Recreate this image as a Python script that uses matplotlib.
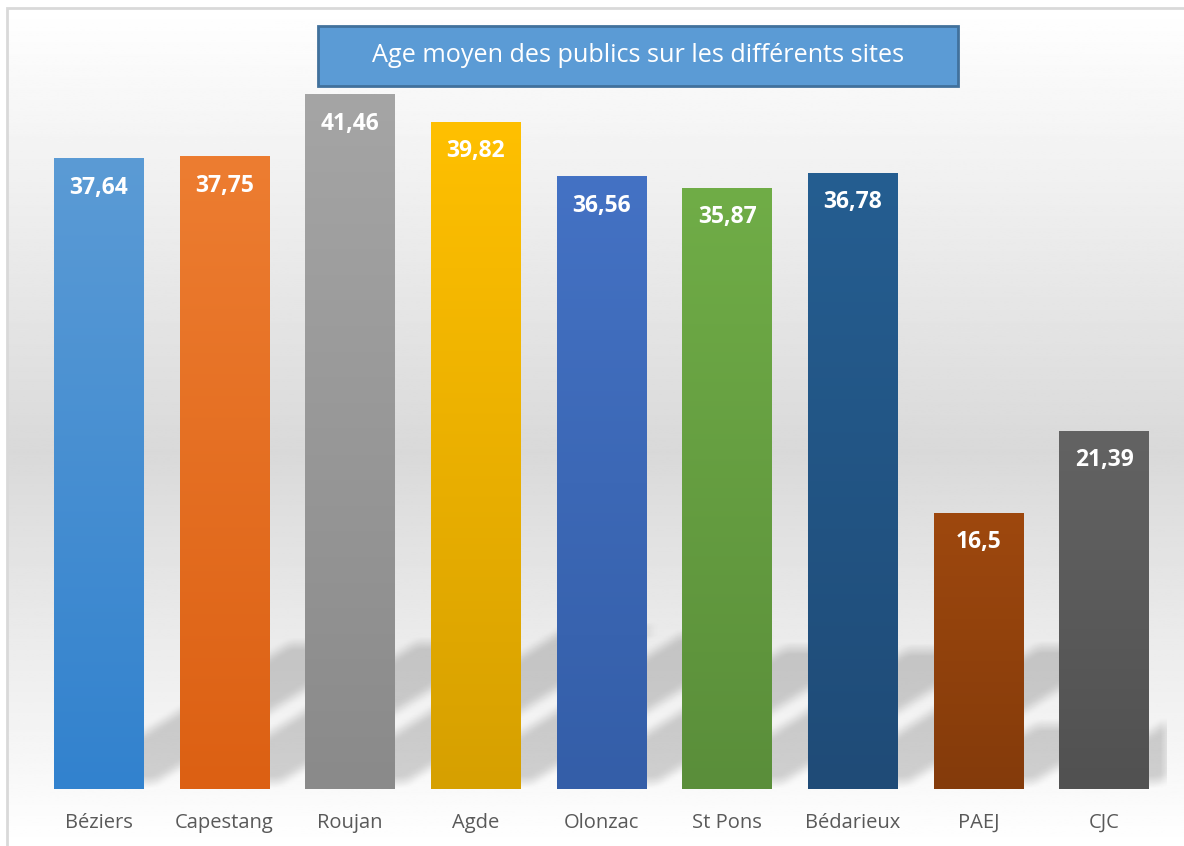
import numpy as np
import matplotlib
matplotlib.use("Agg")
import matplotlib.pyplot as plt
from matplotlib.colors import to_rgb
from matplotlib.patches import Rectangle

# data
sites = ["Béziers", "Capestang", "Roujan", "Agde", "Olonzac",
         "St Pons", "Bédarieux", "PAEJ", "CJC"]
ages = [37.64, 37.75, 41.46, 39.82, 36.56, 35.87, 36.78, 16.5, 21.39]
labels = ["37,64", "37,75", "41,46", "39,82", "36,56", "35,87", "36,78", "16,5", "21,39"]
top_colors = ["#5b9bd5", "#ed7d31", "#a5a5a5", "#ffc000", "#4472c4",
              "#70ad47", "#255e91", "#9e480e", "#636363"]
bottom_colors = ["#3282ce", "#dc6013", "#8a8a8a", "#d6a000", "#345ea8",
                 "#5a8e3a", "#1f4b77", "#843b0b", "#515151"]

W, H = 1184, 846
fig = plt.figure(figsize=(W / 100, H / 100), dpi=100)
fig.patch.set_facecolor("white")

# chart frame with grey gradient (white - grey - white)
bg = fig.add_axes([7 / W, 0, 1 - 7 / W, 1 - 8 / H])
bg.set_axis_off()
t = np.linspace(0, 1, 400)
mid = 0.53
shade = np.where(t < mid, 1 - (1 - 0.851) * t / mid, 0.851 + (1 - 0.851) * (t - mid) / (1 - mid))
grad = np.repeat(shade[:, None], 2, axis=1)
bg.imshow(grad, cmap="gray", vmin=0, vmax=1, aspect="auto", extent=(0, 1, 1, 0))
bg.set_xlim(0, 1)
bg.set_ylim(1, 0)
fig.add_artist(Rectangle((7 / W, -0.05), 1.0, 1.05 - 8 / H, transform=fig.transFigure,
                         fill=False, edgecolor="#d9d9d9", linewidth=2))

# plot area
ax = fig.add_axes([36 / W, 57 / H, 1131 / W, 754 / H])
ax.set_facecolor("none")
ymax = 45
ax.set_xlim(-0.5, len(sites) - 0.5)
ax.set_ylim(0, ymax)
for s in ax.spines.values():
    s.set_visible(False)
ax.set_yticks([])
ax.tick_params(axis="x", length=0, pad=17)

bars = ax.bar(range(len(sites)), ages, width=0.715, color=top_colors, zorder=3)

# perspective shadows (skewed, blurred)
nx, ny = 1131, 754
gx = np.linspace(-0.5, len(sites) - 0.5, nx)
gy = np.linspace(0, ymax, ny)
X, Y = np.meshgrid(gx, gy)
mask = np.zeros_like(X)
skew = 0.217
for b, v in zip(bars, ages):
    x0, x1 = b.get_x(), b.get_x() + b.get_width()
    xs = X - skew * Y
    inside = (xs >= x0) & (xs <= x1) & (Y >= 0.4) & (Y <= 0.23 * v)
    mask[inside] = 1.0
k = np.ones(13) / 13
mask = np.apply_along_axis(lambda r: np.convolve(r, k, mode="same"), 1, mask)
mask = np.apply_along_axis(lambda c: np.convolve(c, k, mode="same"), 0, mask)
rgba = np.zeros((ny, nx, 4))
rgba[..., 3] = mask * 0.17
ax.imshow(rgba, origin="lower", aspect="auto", zorder=1,
          extent=(-0.5, len(sites) - 0.5, 0, ymax))
ax.set_xlim(-0.5, len(sites) - 0.5)
ax.set_ylim(0, ymax)

# vertical gradient on each bar
for b, c_top, c_bot in zip(bars, top_colors, bottom_colors):
    ct, cb = np.array(to_rgb(c_top)), np.array(to_rgb(c_bot))
    f = np.linspace(0, 1, 256)[:, None]
    img = (cb * (1 - f) + ct * f)[:, None, :]
    im = ax.imshow(img, origin="lower", aspect="auto", zorder=4,
                   extent=(b.get_x(), b.get_x() + b.get_width(), 0, b.get_height()))
    im.set_clip_path(b)

# value labels
for b, lab in zip(bars, labels):
    ax.text(b.get_x() + b.get_width() / 2, b.get_height() - 1.75, lab,
            ha="center", va="center", color="white", fontsize=16.5,
            fontweight="bold", family="Open Sans", zorder=5)

ax.set_xticks(range(len(sites)))
ax.set_xticklabels(sites, fontsize=14.5, color="#595959", family="Open Sans")

# title box
fig.add_artist(Rectangle((318 / W, 1 - 86 / H), 640 / W, 60 / H, transform=fig.transFigure,
                         facecolor="#5b9bd5", edgecolor="#41719c", linewidth=2))
fig.text(638 / W, 1 - 55 / H, "Age moyen des publics sur les différents sites",
         ha="center", va="center", color="white", fontsize=18.2, family="Open Sans")

fig.savefig("out.png", dpi=100)
